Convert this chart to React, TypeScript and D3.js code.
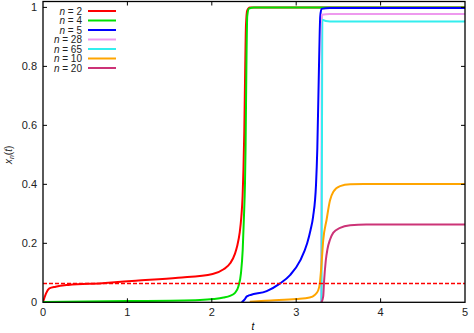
import React, { useEffect, useRef } from 'react'
import { select, scaleLinear, line, curveMonotoneX } from 'd3'

// curves: [t, x_n(t)]
const n2: [number, number][] = [
    [0, 0], [0.036, 0.03], [0.075, 0.047], [0.15, 0.053], [0.3, 0.059], [0.7, 0.065],
    [1.1, 0.073], [1.6, 0.083], [2.01, 0.096], [2.14, 0.112], [2.22, 0.133], [2.275, 0.165],
    [2.3, 0.19], [2.33, 0.235], [2.35, 0.29], [2.365, 0.36], [2.375, 0.45], [2.385, 0.58],
    [2.395, 0.78], [2.405, 0.94], [2.42, 0.99], [2.45, 1.0], [5, 1.0]
]
const n4: [number, number][] = [
    [0, 0.001], [1, 0.004], [1.86, 0.008], [2.02, 0.011], [2.14, 0.016], [2.216, 0.022],
    [2.275, 0.032], [2.314, 0.053], [2.346, 0.1], [2.366, 0.177], [2.381, 0.29], [2.393, 0.4],
    [2.4, 0.52], [2.41, 0.8], [2.42, 0.97], [2.44, 0.996], [2.5, 1.0], [5, 1.0]
]
const n5: [number, number][] = [
    [2.354, 0], [2.39, 0.01], [2.41, 0.019], [2.43, 0.022], [2.46, 0.025], [2.65, 0.038],
    [2.81, 0.064], [2.93, 0.093], [3.05, 0.143], [3.13, 0.2], [3.17, 0.245], [3.2, 0.29],
    [3.235, 0.4], [3.25, 0.52], [3.27, 0.8], [3.285, 0.97], [3.3, 0.995], [3.4, 0.998], [5, 0.998]
]
const n28: [number, number][] = [
    [3.295, 0], [3.3, 0.5], [3.305, 0.975], [3.4, 0.978], [5, 0.978]
]
const n65: [number, number][] = [
    [3.3, 0], [3.305, 0.5], [3.31, 0.958], [3.35, 0.954], [3.45, 0.952], [5, 0.952]
]
const n10: [number, number][] = [
    [2.45, 0.002], [2.7, 0.006], [3.0, 0.011], [3.16, 0.016], [3.22, 0.025], [3.26, 0.04],
    [3.28, 0.064], [3.3, 0.13], [3.32, 0.21], [3.36, 0.28], [3.4, 0.345], [3.44, 0.375],
    [3.52, 0.394], [3.64, 0.4], [3.8, 0.401], [5, 0.401]
]
const n20: [number, number][] = [
    [3.3, 0], [3.32, 0.02], [3.33, 0.07], [3.35, 0.14], [3.37, 0.18], [3.4, 0.212],
    [3.44, 0.236], [3.52, 0.252], [3.64, 0.261], [3.83, 0.264], [5, 0.264]
]
const dashedLevel = 0.064

const seriesNames = ['2', '4', '5', '28', '65', '10', '20']
const seriesData = [n2, n4, n5, n28, n65, n10, n20]
const seriesColors = ['#ff0000', '#00e000', '#0000ff', '#ee99ee', '#33eeee', '#ffa500', '#cc3377']

const xTicks = [0, 1, 2, 3, 4, 5]
const yTicks = [0, 0.2, 0.4, 0.6, 0.8, 1]

const font = 'Liberation Sans, Arial, sans-serif'

export default function App() {
    const ref = useRef<SVGSVGElement>(null)

    useEffect(() => {
        const width = 474
        const height = 333
        const m = { l: 43, r: 465, t: 1.5, b: 302.3 }

        const x = scaleLinear().domain([0, 5]).range([m.l, m.r])
        const y = scaleLinear().domain([0, 1.02]).range([m.b, m.t])

        const svg = select(ref.current).attr('width', width).attr('height', height)
        svg.selectAll('*').remove()

        svg.append('defs').append('clipPath').attr('id', 'plotclip')
            .append('rect')
            .attr('x', m.l).attr('y', m.t)
            .attr('width', m.r - m.l).attr('height', m.b - m.t)

        const plot = svg.append('g').attr('clip-path', 'url(#plotclip)')

        const lineGen = line<[number, number]>()
            .x(d => x(d[0]))
            .y(d => y(d[1]))
            .curve(curveMonotoneX)

        plot.selectAll('.curve').data(seriesData).join('path')
            .attr('class', 'curve')
            .attr('d', d => lineGen(d))
            .attr('fill', 'none')
            .attr('stroke', (d, i) => seriesColors[i])
            .attr('stroke-width', 2)
            .attr('stroke-linejoin', 'round')

        // dashed red level
        plot.append('line')
            .attr('x1', x(0)).attr('x2', x(5))
            .attr('y1', y(dashedLevel)).attr('y2', y(dashedLevel))
            .attr('stroke', '#ff0000')
            .attr('stroke-width', 1.5)
            .attr('stroke-dasharray', '4,2')

        // border box
        svg.append('rect')
            .attr('x', m.l).attr('y', m.t)
            .attr('width', m.r - m.l).attr('height', m.b - m.t)
            .attr('fill', 'none').attr('stroke', '#000').attr('stroke-width', 1.3)

        const tl = 4
        const ticks = svg.append('g').attr('stroke', '#000').attr('stroke-width', 1)
        xTicks.slice(1, -1).forEach(t => {
            ticks.append('line').attr('x1', x(t)).attr('x2', x(t)).attr('y1', m.b).attr('y2', m.b - tl)
            ticks.append('line').attr('x1', x(t)).attr('x2', x(t)).attr('y1', m.t).attr('y2', m.t + tl)
        })
        yTicks.slice(1).forEach(v => {
            ticks.append('line').attr('x1', m.l).attr('x2', m.l + tl).attr('y1', y(v)).attr('y2', y(v))
            ticks.append('line').attr('x1', m.r).attr('x2', m.r - tl).attr('y1', y(v)).attr('y2', y(v))
        })

        svg.selectAll('.xlab').data(xTicks).join('text')
            .attr('class', 'xlab')
            .attr('x', d => x(d)).attr('y', 316)
            .attr('text-anchor', 'middle')
            .attr('font-family', font).attr('font-size', 11).attr('fill', '#222')
            .text(d => String(d))

        svg.selectAll('.ylab').data(yTicks).join('text')
            .attr('class', 'ylab')
            .attr('x', 37).attr('y', d => y(d) + 4)
            .attr('text-anchor', 'end')
            .attr('font-family', font).attr('font-size', 11).attr('fill', '#222')
            .text(d => String(d))

        svg.append('text')
            .attr('x', 253).attr('y', 330)
            .attr('text-anchor', 'middle')
            .attr('font-family', font).attr('font-size', 10).attr('font-style', 'italic')
            .text('t')

        const yl = svg.append('text')
            .attr('transform', `translate(12, ${y(0.5)}) rotate(-90)`)
            .attr('text-anchor', 'middle')
            .attr('font-family', font).attr('font-size', 10).attr('fill', '#222')
        yl.append('tspan').attr('font-style', 'italic').text('x')
        yl.append('tspan').attr('font-style', 'italic').attr('font-size', 7).attr('dy', 2).text('n')
        yl.append('tspan').attr('dy', -2).text('(')
        yl.append('tspan').attr('font-style', 'italic').text('t')
        yl.append('tspan').text(')')

        // legend
        const legend = svg.append('g')
        seriesNames.forEach((name, i) => {
            const ly = 11 + i * 9.5
            const t = legend.append('text')
                .attr('x', 82).attr('y', ly + 3.5)
                .attr('text-anchor', 'end')
                .attr('font-family', font).attr('font-size', 10).attr('fill', '#222')
            t.append('tspan').attr('font-style', 'italic').text('n')
            t.append('tspan').text(` = ${name}`)
            legend.append('line')
                .attr('x1', 88).attr('x2', 116)
                .attr('y1', ly).attr('y2', ly)
                .attr('stroke', seriesColors[i]).attr('stroke-width', 2)
        })
    }, [])

    return (
        <svg ref={ref} style={{ position: 'absolute', left: 0, top: 0, background: '#fff' }} />
    )
}
